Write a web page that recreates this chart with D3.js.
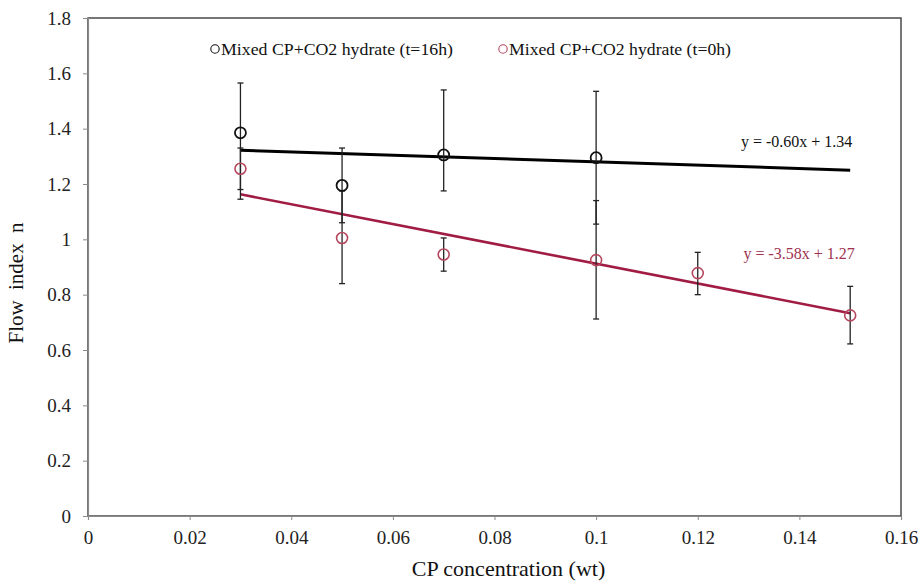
<!DOCTYPE html>
<html>
<head>
<meta charset="utf-8">
<script src="https://cdn.jsdelivr.net/npm/d3@7"></script>
<style>
  html, body { margin: 0; padding: 0; background: #fff; }
  svg text { font-family: 'Liberation Serif', 'DejaVu Serif', serif !important; }
</style>
</head>
<body>
<div class="chart"></div>
<script>
'use strict';

// CP concentration (wt) vs flow index n
const xT16 = [0.03, 0.05, 0.07, 0.1];
const yT16 = [1.385, 1.195, 1.305, 1.295];
const hiT16 = [1.565, 1.33, 1.54, 1.535];
const loT16 = [1.18, 1.06, 1.175, 1.055];

const xT0 = [0.03, 0.05, 0.07, 0.1, 0.12, 0.15];
const yT0 = [1.255, 1.005, 0.945, 0.925, 0.878, 0.725];
const hiT0 = [1.33, 1.175, 1.005, 1.14, 0.953, 0.83];
const loT0 = [1.145, 0.84, 0.885, 0.712, 0.80, 0.622];

const fitT16 = [-0.60, 1.34];
const fitT0 = [-3.58, 1.27];
const fitRange = [0.03, 0.15];

const seriesNames = ['Mixed CP+CO2 hydrate (t=16h)', 'Mixed CP+CO2 hydrate (t=0h)'];
const fitLabels = ['y = -0.60x + 1.34', 'y = -3.58x + 1.27'];

const xTicks = [0, 0.02, 0.04, 0.06, 0.08, 0.1, 0.12, 0.14, 0.16];
const xTickLabels = ['0', '0.02', '0.04', '0.06', '0.08', '0.1', '0.12', '0.14', '0.16'];
const yTicks = [0, 0.2, 0.4, 0.6, 0.8, 1, 1.2, 1.4, 1.6, 1.8];
const yTickLabels = ['0', '0.2', '0.4', '0.6', '0.8', '1', '1.2', '1.4', '1.6', '1.8'];

const FULL_WIDTH = 919;
const FULL_HEIGHT = 581;
const margin = { top: 18, right: 18, bottom: 65, left: 88 };
const WIDTH = FULL_WIDTH - margin.left - margin.right;
const HEIGHT = FULL_HEIGHT - margin.top - margin.bottom;

const BLACK = '#111111';
const RED = '#a01c42';
const RED_MARK = '#b5485f';
const R = 5.5;

const svg = d3.select('.chart')
  .append('svg')
    .attr('width', FULL_WIDTH)
    .attr('height', FULL_HEIGHT)
  .append('g')
    .attr('transform', 'translate(' + margin.left + ',' + margin.top + ')');

const x = d3.scaleLinear().domain([0, 0.16]).range([0, WIDTH]);
const y = d3.scaleLinear().domain([0, 1.8]).range([HEIGHT, 0]);

// frame (top and right)
svg.append('rect')
  .attr('x', 0).attr('y', 0)
  .attr('width', WIDTH).attr('height', HEIGHT)
  .attr('fill', 'none')
  .attr('stroke', '#4a4a4a')
  .attr('stroke-width', 1.5);

const xAxis = svg.append('g')
  .attr('transform', 'translate(0,' + HEIGHT + ')')
  .call(d3.axisBottom(x)
    .tickValues(xTicks)
    .tickSize(4)
    .tickPadding(11)
    .tickFormat((d, i) => xTickLabels[i]));

const yAxis = svg.append('g')
  .call(d3.axisLeft(y)
    .tickValues(yTicks)
    .tickSize(5)
    .tickPadding(12)
    .tickFormat((d, i) => yTickLabels[i]));

[xAxis, yAxis].forEach((g) => {
  g.select('.domain').attr('stroke', '#8a8a8a').attr('stroke-width', 1.2);
  g.selectAll('.tick line').attr('stroke', '#8a8a8a');
  g.selectAll('.tick text')
    .attr('fill', '#222')
    .attr('font-size', '19px');
});

// axis titles
svg.append('text')
  .attr('x', WIDTH / 2 + 14)
  .attr('y', HEIGHT + 60)
  .attr('text-anchor', 'middle')
  .attr('font-size', '22px')
  .attr('fill', '#111')
  .text('CP concentration (wt)');

svg.append('text')
  .attr('transform', 'translate(' + (-65) + ',' + (y(0.9) + 16) + ') rotate(-90)')
  .attr('text-anchor', 'middle')
  .attr('font-size', '21px')
  .attr('word-spacing', '5px')
  .attr('fill', '#111')
  .text('Flow index n');

// trend lines
function drawFit(coef, color, width) {
  svg.append('line')
    .attr('x1', x(fitRange[0]))
    .attr('y1', y(coef[0] * fitRange[0] + coef[1]))
    .attr('x2', x(fitRange[1]))
    .attr('y2', y(coef[0] * fitRange[1] + coef[1]))
    .attr('stroke', color)
    .attr('stroke-width', width);
}

drawFit(fitT16, '#000', 3);
drawFit(fitT0, RED, 2.6);

// error bars
function drawErrors(xs, lo, hi) {
  const g = svg.append('g').attr('stroke', '#222').attr('stroke-width', 1.3);
  xs.forEach((v, i) => {
    g.append('line')
      .attr('x1', x(v)).attr('x2', x(v))
      .attr('y1', y(lo[i])).attr('y2', y(hi[i]));
    [lo[i], hi[i]].forEach((e) => {
      g.append('line')
        .attr('x1', x(v) - 3).attr('x2', x(v) + 3)
        .attr('y1', y(e)).attr('y2', y(e));
    });
  });
}

drawErrors(xT16, loT16, hiT16);
drawErrors(xT0, loT0, hiT0);

// markers
function drawPoints(xs, ys, color, sw) {
  svg.append('g')
    .selectAll('circle')
    .data(xs)
    .enter()
    .append('circle')
      .attr('cx', (d) => x(d))
      .attr('cy', (d, i) => y(ys[i]))
      .attr('r', R)
      .attr('fill', 'none')
      .attr('stroke', color)
      .attr('stroke-width', sw);
}

drawPoints(xT16, yT16, BLACK, 1.8);
drawPoints(xT0, yT0, RED_MARK, 1.6);

// fit equations
svg.append('text')
  .attr('x', x(0.1285))
  .attr('y', y(1.335))
  .attr('font-size', '16px')
  .attr('fill', '#111')
  .text(fitLabels[0]);

svg.append('text')
  .attr('x', x(0.129))
  .attr('y', y(0.93))
  .attr('font-size', '16px')
  .attr('fill', '#a0324f')
  .text(fitLabels[1]);

// legend
const legend = [
  { color: BLACK, text: seriesNames[0], cx: 127, len: 232 },
  { color: RED_MARK, text: seriesNames[1], cx: 415, len: 222 }
];

legend.forEach((l) => {
  const g = svg.append('g').attr('transform', 'translate(' + l.cx + ',' + 31 + ')');
  g.append('circle')
    .attr('r', 4.2)
    .attr('fill', 'none')
    .attr('stroke', l.color)
    .attr('stroke-width', 1.1);
  g.append('text')
    .attr('x', 6)
    .attr('dy', '6px')
    .attr('font-size', '17px')
    .attr('textLength', l.len)
    .attr('lengthAdjust', 'spacingAndGlyphs')
    .attr('fill', '#111')
    .text(l.text);
});
</script>
</body>
</html>
